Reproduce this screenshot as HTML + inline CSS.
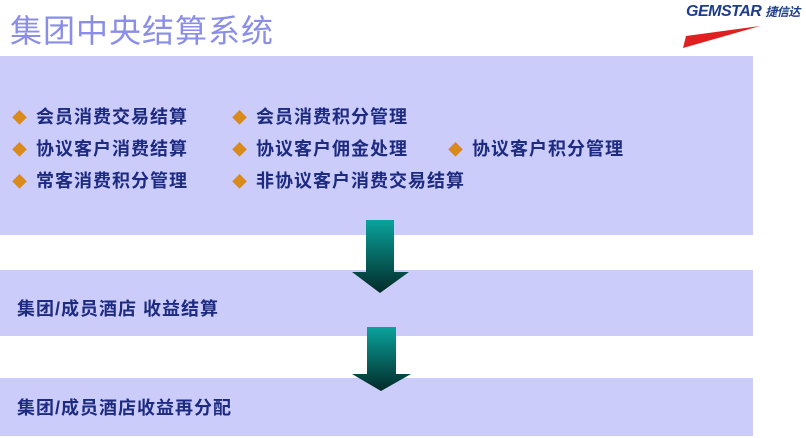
<!DOCTYPE html>
<html><head><meta charset="utf-8"><style>
body{margin:0;width:806px;height:438px;background:#fff;position:relative;overflow:hidden;font-family:"Liberation Sans","Noto Sans CJK SC",sans-serif}
.t{position:absolute;left:10px;top:6px;font-size:32px;color:#8a8ee6;font-family:"Noto Sans CJK SC",sans-serif;font-weight:400;letter-spacing:1px}
.box{position:absolute;left:0;width:753px;background:#ccccfb}
.l{position:absolute;font-size:18px;font-weight:bold;color:#1c2a80;white-space:nowrap;letter-spacing:1px;line-height:22px}
.d{color:#d98a1a;font-size:15px;margin-right:8px}
</style></head><body>
<div class="t">集团中央结算系统</div>
<div style="position:absolute;left:686px;top:3px;font:bold italic 16px 'Liberation Sans',sans-serif;color:#1d3c8c;letter-spacing:-0.5px">GEMSTAR <span style="font-size:12px;font-family:'Noto Sans CJK SC',sans-serif">捷信达</span></div>
<svg style="position:absolute;left:680px;top:18px" width="100" height="32"><path d="M3 30 L6 18 L80 8 Z" fill="#e02020"/></svg>
<div class="box" style="top:56px;height:179px"></div>
<div class="box" style="top:270px;height:66px"></div>
<div class="box" style="top:378px;height:58px"></div>
<div class="l" style="left:12px;top:106px"><span class="d">◆</span>会员消费交易结算</div>
<div class="l" style="left:232px;top:106px"><span class="d">◆</span>会员消费积分管理</div>
<div class="l" style="left:12px;top:138px"><span class="d">◆</span>协议客户消费结算</div>
<div class="l" style="left:232px;top:138px"><span class="d">◆</span>协议客户佣金处理</div>
<div class="l" style="left:448px;top:138px"><span class="d">◆</span>协议客户积分管理</div>
<div class="l" style="left:12px;top:170px"><span class="d">◆</span>常客消费积分管理</div>
<div class="l" style="left:232px;top:170px"><span class="d">◆</span>非协议客户消费交易结算</div>
<div class="l" style="left:17px;top:298px">集团/成员酒店 收益结算</div>
<div class="l" style="left:17px;top:397px">集团/成员酒店收益再分配</div>
<svg style="position:absolute;left:0;top:0" width="806" height="438">
<defs><linearGradient id="g" x1="0" y1="0" x2="0" y2="1"><stop offset="0" stop-color="#0aa39c"/><stop offset="1" stop-color="#022a28"/></linearGradient></defs>
<path d="M366 220 H394 V272 H409 L380 293 L352 272 H366 Z" fill="url(#g)"/>
<path d="M367 327 H396 V374 H411 L381 391 L352 374 H367 Z" fill="url(#g)"/>
</svg>
</body></html>
